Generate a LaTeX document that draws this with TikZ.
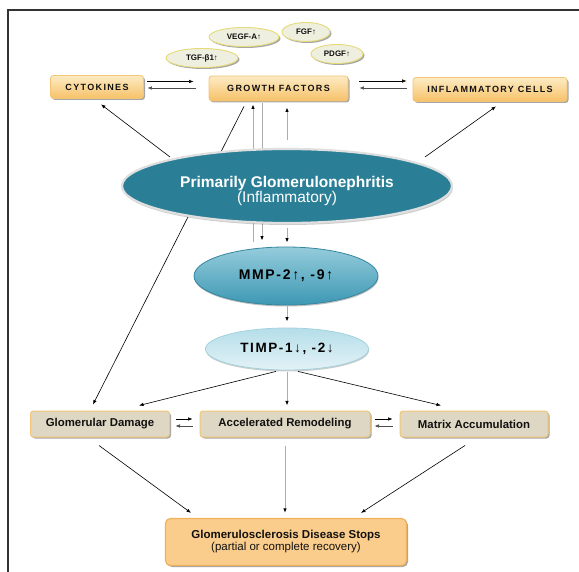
\documentclass[tikz,border=0pt]{standalone}
\usepackage{fontspec}
\setmainfont{Liberation Sans}
\newfontfamily\spaced[LetterSpace=15]{Liberation Sans}
\newfontfamily\spacedm[LetterSpace=12]{Liberation Sans}
\usetikzlibrary{shapes.geometric,arrows.meta,shadows,calc}
\pgfdeclarelayer{bottomlayer}
\pgfdeclarelayer{background}
\pgfsetlayers{bottomlayer,background,main}
\definecolor{boxtop}{HTML}{FDEBC3}
\definecolor{boxbot}{HTML}{F6C168}
\definecolor{boxdraw}{HTML}{F2C577}
\definecolor{lowfill}{HTML}{DDD7C3}
\definecolor{gsfill}{HTML}{FBCD8D}
\definecolor{gsdraw}{HTML}{F0B259}
\definecolor{smallfill}{HTML}{EFEFDF}
\definecolor{smalldraw}{HTML}{E5DA78}
\definecolor{pgfillc}{HTML}{2A7F97}
\definecolor{mmptop}{HTML}{95CCDC}
\definecolor{mmpbot}{HTML}{3D98B3}
\definecolor{mmpdraw}{HTML}{34879F}
\definecolor{timptop}{HTML}{B5DEE9}
\definecolor{timpbot}{HTML}{E3F2F6}
\definecolor{timpdraw}{HTML}{A3D2DF}
\definecolor{txt}{HTML}{111111}
\begin{document}
\begin{tikzpicture}[x=1pt,y=-1pt,
  shad/.style={drop shadow={shadow xshift=1.5pt,shadow yshift=-1.5pt,opacity=0.35,fill=black}},
  topbox/.style={rectangle,rounded corners=3pt,top color=boxtop,bottom color=boxbot,draw=boxdraw,line width=0.8pt,shad,inner sep=0pt,font=\spaced\bfseries\fontsize{9}{10}\selectfont,text=txt},
  lowbox/.style={rectangle,rounded corners=3pt,fill=lowfill,draw=boxdraw,line width=1pt,shad,inner sep=0pt,font=\bfseries\fontsize{11.4}{12}\selectfont,text=txt,minimum height=26pt},
  smallell/.style={ellipse,fill=smallfill,draw=smalldraw,line width=0.9pt,shad,inner sep=0pt,minimum height=19pt,font=\bfseries\fontsize{8}{9}\selectfont,text=txt},
  arr/.style={-{Latex[length=4.5pt,width=3.5pt]},line width=0.6pt,black},
  garr/.style={-{Latex[length=4.5pt,width=3.5pt,color=black]},line width=1pt,gray!65},
  gline/.style={line width=1pt,gray!65}]
\begin{pgfonlayer}{bottomlayer}
\fill[white] (0,0) rectangle (579,572);
\end{pgfonlayer}
\useasboundingbox (0,0) rectangle (579,572);
\draw[line width=1.3pt,black!80] (8,572) -- (8,10) -- (579,10);

% top ellipses
\node[smallell,minimum width=70pt] (vegf) at (244,37) {VEGF-A↑};
\node[smallell,minimum width=48pt] (fgf) at (306,32) {FGF↑};
\node[smallell,minimum width=72pt] (tgf) at (202,58) {TGF-β1↑};
\node[smallell,minimum width=52pt] (pdgf) at (337,54) {PDGF↑};

% top boxes
\node[topbox,minimum width=93pt,minimum height=23pt] (cyt) at (97,87) {CYTOKINES};
\node[topbox,minimum width=139pt,minimum height=25pt] (gf) at (278.5,88.5) {GROWTH FACTORS};
\node[topbox,minimum width=154pt,minimum height=24pt] (ic) at (490,89.5) {INFLAMMATORY CELLS};

% main ellipse
\node[ellipse,fill=pgfillc,draw=gray!25,line width=2.2pt,minimum width=330pt,minimum height=74pt,inner sep=0pt,
  drop shadow={shadow xshift=1pt,shadow yshift=-2pt,opacity=0.2,fill=black}] (pg) at (287,186) {};
\node[align=center,text=white,inner sep=0pt] (pgt) at (287,191)
  {{\bfseries\fontsize{15.5}{18}\selectfont Primarily Glomerulonephritis}\\[-1pt]{\fontsize{15.5}{18}\selectfont (Inflammatory)}};

\node[ellipse,top color=mmptop,bottom color=mmpbot,draw=mmpdraw,line width=0.8pt,minimum width=184pt,minimum height=58pt,inner sep=0pt,
  drop shadow={shadow xshift=0.5pt,shadow yshift=-1.5pt,opacity=0.25,fill=black},
  font=\spacedm\bfseries\fontsize{14}{16}\selectfont,text=black] (mmp) at (286,276) {MMP-2↑, -9↑};
\node[ellipse,top color=timptop,bottom color=timpbot,draw=timpdraw,line width=0.8pt,minimum width=163pt,minimum height=42pt,inner sep=0pt,
  drop shadow={shadow xshift=0.5pt,shadow yshift=-1.5pt,opacity=0.2,fill=black},
  font=\spacedm\bfseries\fontsize{13.5}{15}\selectfont,text=black] (timp) at (287,349) {TIMP-1↓, -2↓};

% lower row
\node[lowbox,minimum width=139pt] (gd) at (100,424) {Glomerular Damage};
\node[lowbox,minimum width=170pt] (ar) at (285,424) {Accelerated Remodeling};
\node[lowbox,minimum width=148pt] (ma) at (474,424) {Matrix Accumulation};

\node[rectangle,rounded corners=5pt,fill=gsfill,draw=gsdraw,line width=1.2pt,shad,minimum width=241pt,minimum height=47pt,inner sep=0pt,align=center,text=txt] (gs) at (286,542)
  {{\bfseries\fontsize{11.5}{14}\selectfont Glomerulosclerosis Disease Stops}\\{\fontsize{11.5}{14}\selectfont (partial or complete recovery)}};

% lines behind the main ellipse
\begin{pgfonlayer}{background}
\draw[arr] ($(gf.south)+(-34.5,5)$) -- ($(gd.north)+(-7,-6)$);
\draw[garr] ($(mmp.north)+(-33,-5)$) -- ($(gf.south)+(-25.5,3)$);
\draw[gline] ($(gf.south)+(-16.5,2)$) -- ($(pg.center)+(-25,0)$);
\draw[garr] ($(pg.center)+(-25,0)$) -- ($(mmp.north)+(-24,-6)$);
\end{pgfonlayer}

% top arrows
\draw[arr] ($(cyt.east)+(3.5,-5.5)$) -- ($(gf.west)+(-15,-7)$);
\draw[arr,gray!60!black] ($(gf.west)+(-13,-0.5)$) -- ($(cyt.east)+(3.5,1)$);
\draw[arr] ($(gf.east)+(11,-7.5)$) -- ($(ic.west)+(-6,-8.5)$);
\draw[arr,gray!60!black] ($(ic.west)+(-6,-1.5)$) -- ($(gf.east)+(11,-0.5)$);
\draw[arr] ($(pg.center)+(-117,-29)$) -- ($(cyt.south)+(4,5.5)$);
\draw[arr] ($(pg.center)+(138,-29)$) -- ($(ic.south)+(6,4.5)$);
\draw[garr] ($(pg.north)+(0,-8)$) -- ($(gf.south)+(8.5,6)$);
\draw[garr] ($(pg.south)+(0,4)$) -- ($(mmp.north)+(1,-4)$);
\draw[garr] ($(mmp.south)+(1,0)$) -- ($(timp.north)+(0,-6)$);

% to lower row
\draw[arr] ($(timp.south)+(-11,1)$) -- ($(gd.north)+(39,-5)$);
\draw[garr] ($(timp.south)+(0,2)$) -- ($(ar.north)+(2,-5)$);
\draw[arr] ($(timp.south)+(11,1)$) -- ($(ma.north)+(-33,-5)$);

% lower double arrows
\draw[arr] ($(gd.east)+(5.5,-5)$) -- ($(ar.west)+(-7,-5)$);
\draw[arr,gray!60!black] ($(ar.west)+(-7,2)$) -- ($(gd.east)+(5.5,2)$);
\draw[arr] ($(ar.east)+(4,-5)$) -- ($(ma.west)+(-7,-5)$);
\draw[arr,gray!60!black] ($(ma.west)+(-7,2)$) -- ($(ar.east)+(4,2)$);

% to bottom box
\draw[arr] ($(gd.south)+(-1,8)$) -- ($(gs.north)+(-95,-5)$);
\draw[garr] ($(ar.south)+(0,8)$) -- ($(gs.north)+(-1,-5)$);
\draw[arr] ($(ma.south)+(-9,8)$) -- ($(gs.north)+(75,-5)$);
\end{tikzpicture}
\end{document}
